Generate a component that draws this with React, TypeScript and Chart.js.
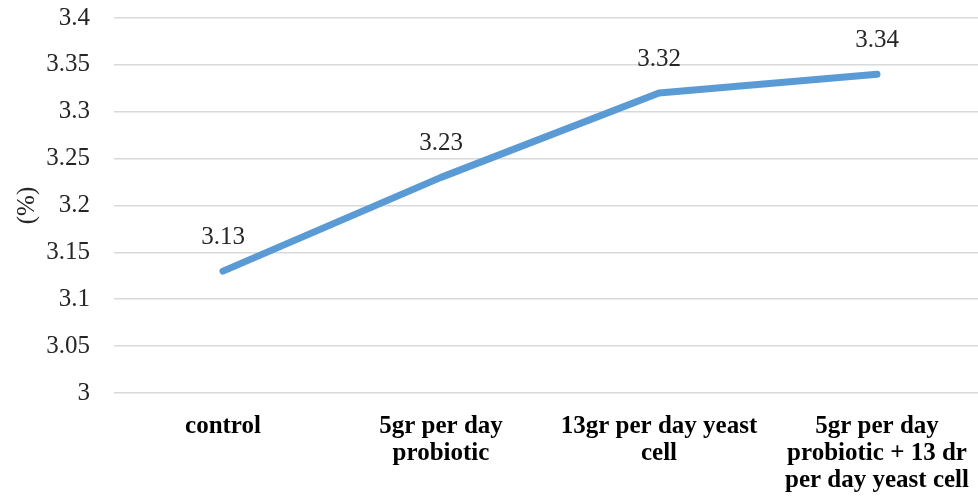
import React, { useEffect, useRef } from "react";
import { Chart, registerables } from "chart.js";

Chart.register(...registerables);

const categories: string[][] = [
  ["control"],
  ["5gr per day", "probiotic"],
  ["13gr per day yeast", "cell"],
  ["5gr per day", "probiotic + 13 dr", "per day yeast cell"],
];
const values: number[] = [3.13, 3.23, 3.32, 3.34];
const yMin = 3;
const yMax = 3.4;
const yStep = 0.05;
const yTitle = "(%)";

const labelPlugin = {
  id: "pointLabels",
  afterDatasetsDraw(chart: any) {
    const ctx = chart.ctx;
    const meta = chart.getDatasetMeta(0);
    ctx.save();
    ctx.font = "25px 'Liberation Serif', serif";
    ctx.fillStyle = "#262626";
    ctx.textAlign = "center";
    ctx.textBaseline = "middle";
    meta.data.forEach((pt: any, i: number) => {
      ctx.fillText(String(values[i]), pt.x, pt.y - 34);
    });
    ctx.restore();
  },
};

export default function App() {
  const ref = useRef<HTMLCanvasElement>(null);
  useEffect(() => {
    const chart = new Chart(ref.current!, {
      type: "line",
      data: {
        labels: categories,
        datasets: [
          {
            data: values,
            borderColor: "#5B9BD5",
            borderWidth: 7,
            borderCapStyle: "round",
            borderJoinStyle: "round",
            pointRadius: 0,
            tension: 0,
          },
        ],
      },
      options: {
        animation: false,
        responsive: false,
        maintainAspectRatio: false,
        layout: { padding: { top: 18, right: 0, left: 12, bottom: 0 } },
        plugins: { legend: { display: false }, tooltip: { enabled: false } },
        scales: {
          x: {
            offset: true,
            grid: { display: false, drawTicks: false },
            border: { display: false },
            ticks: {
              color: "#000",
              font: { family: "'Liberation Serif', serif", size: 25, weight: "bold", lineHeight: "27px" },
              padding: 20,
              maxRotation: 0,
              autoSkip: false,
            },
            afterFit: (s: any) => {
              s.height = 105;
              s.paddingLeft = 0;
              s.paddingRight = 0;
            },
          },
          y: {
            min: yMin,
            max: yMax,
            grid: { color: "#d9d9d9", lineWidth: 1.5, drawTicks: false },
            border: { display: false },
            ticks: {
              stepSize: yStep,
              color: "#262626",
              font: { family: "'Liberation Serif', serif", size: 25 },
              padding: 24,
              callback: (v: any) => String(Math.round(Number(v) * 100) / 100),
            },
            title: {
              display: true,
              text: yTitle,
              color: "#262626",
              font: { family: "'Liberation Serif', serif", size: 25 },
              padding: 0,
            },
            afterFit: (s: any) => {
              s.width = 102;
              s.paddingTop = 0;
              s.paddingBottom = 0;
            },
          },
        },
      },
      plugins: [labelPlugin],
    } as any);
    return () => chart.destroy();
  }, []);
  return (
    <div
      style={{
        position: "fixed",
        left: 0,
        top: 0,
        width: 978,
        height: 498,
        overflow: "hidden",
        background: "#fff",
      }}
    >
      <canvas ref={ref} width={986} height={498} style={{ display: "block" }} />
    </div>
  );
}
